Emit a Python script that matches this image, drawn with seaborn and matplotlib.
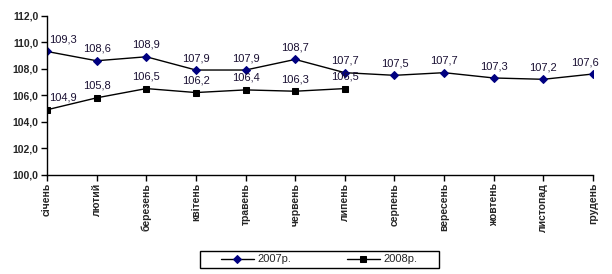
import matplotlib
matplotlib.use("Agg")
import matplotlib.pyplot as plt
from matplotlib.ticker import FuncFormatter
from matplotlib.patches import Rectangle
import seaborn as sns
import pandas as pd

months = ["січень", "лютий", "березень", "квітень", "травень", "червень",
          "липень", "серпень", "вересень", "жовтень", "листопад", "грудень"]
values_2007 = [109.3, 108.6, 108.9, 107.9, 107.9, 108.7, 107.7, 107.5, 107.7, 107.3, 107.2, 107.6]
values_2008 = [104.9, 105.8, 106.5, 106.2, 106.4, 106.3, 106.5]
series_names = ["2007р.", "2008р."]
y_ticks = [100, 102, 104, 106, 108, 110, 112]

sns.set_style("white")
plt.rcParams['font.family'] = ['Liberation Sans', 'DejaVu Sans']

df07 = pd.DataFrame({"idx": range(len(values_2007)), "v": values_2007})
df08 = pd.DataFrame({"idx": range(len(values_2008)), "v": values_2008})

fig = plt.figure(figsize=(6.12, 2.74), dpi=100)
ax = fig.add_axes([47/612, 1-174.7/274, (593-47)/612, (174.7-15.7)/274])

sns.lineplot(data=df07, x="idx", y="v", ax=ax, color="black", lw=1,
             marker="D", markersize=4.5, markerfacecolor="#000080",
             markeredgecolor="#000080", label=series_names[0])
sns.lineplot(data=df08, x="idx", y="v", ax=ax, color="black", lw=1,
             marker="s", markersize=5, markerfacecolor="black",
             markeredgecolor="black", label=series_names[1])

for i, v in enumerate(values_2007):
    dx = 0
    if i == 0:
        dx = 0.32
    elif i == len(values_2007) - 1:
        dx = -0.16
    ax.annotate(f"{v:.1f}".replace(".", ","), (i + dx, v), xytext=(0, 5),
                textcoords="offset points", ha="center", va="bottom",
                fontsize=8, color="#1a1033")
for i, v in enumerate(values_2008):
    dx = 0.32 if i == 0 else 0
    ax.annotate(f"{v:.1f}".replace(".", ","), (i + dx, v), xytext=(0, 5),
                textcoords="offset points", ha="center", va="bottom",
                fontsize=8, color="#1a1033")

ax.set_xlim(0, 11)
ax.set_ylim(100, 112)
ax.set_yticks(y_ticks)
ax.yaxis.set_major_formatter(FuncFormatter(lambda v, p: f"{v:.1f}".replace(".", ",")))
ax.set_xticks(range(len(months)))
ax.set_xticklabels(months, rotation=90, ha="center", va="top",
                   fontweight="bold", fontsize=7.5)
for lab in ax.get_yticklabels():
    lab.set_fontweight("bold")
    lab.set_fontsize(7.5)
ax.tick_params(axis="both", direction="out", length=4, width=1, color="black",
               bottom=True, left=True, pad=2)
ax.set_xlabel("")
ax.set_ylabel("")
for s in ["top", "right"]:
    ax.spines[s].set_visible(False)
for s in ["left", "bottom"]:
    ax.spines[s].set_color("black")
    ax.spines[s].set_linewidth(1)

ax.get_legend().remove()
handles, labels = ax.get_legend_handles_labels()
leg = fig.legend(handles, labels, ncol=2, loc="center",
                 bbox_to_anchor=(319/612, 1-259.5/274), fontsize=8,
                 frameon=False, borderpad=0.0, handlelength=3.0,
                 columnspacing=5.0, handletextpad=0.3)
fig.patches.append(Rectangle((200/612, 1-268/274), 239/612, 17/274,
                             transform=fig.transFigure, fill=False,
                             edgecolor="black", linewidth=1))

fig.savefig("out.png", dpi=100)
